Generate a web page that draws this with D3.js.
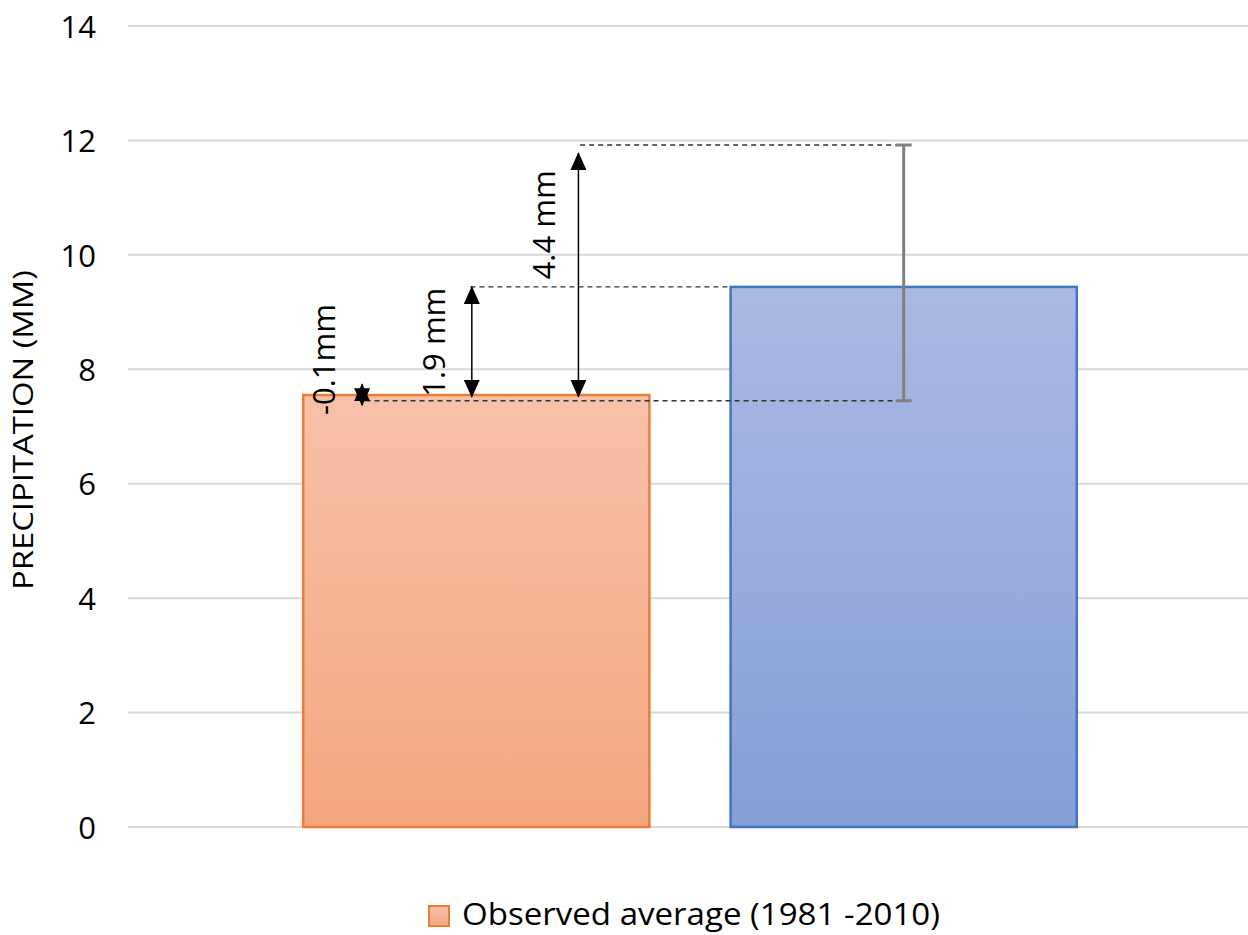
<!DOCTYPE html>
<html>
<head>
<meta charset="utf-8">
<script src="https://cdn.jsdelivr.net/npm/d3@7"></script>
<style>
  body { margin: 0; background: #fff; }
  svg { display: block; font-family: "Open Sans", sans-serif; }
</style>
</head>
<body>
<div id="chart"></div>
<script>
// Series (one cluster, two bars)
const seriesNames = ["Observed average (1981 -2010)", "Model ensemble"];
const seriesValues = [7.55, 9.44];
const legendNames = ["Observed average (1981 -2010)"];

// Model spread shown as an error bar on the second bar
const rangeLow = [7.45];
const rangeHigh = [11.92];

const yTicks = [0, 2, 4, 6, 8, 10, 12, 14];

// Difference arrows drawn over the observed bar
const arrowLabels = ["-0.1mm", "1.9 mm", "4.4 mm"];
const arrowFrom = [7.74, 7.52, 7.52];
const arrowTo = [7.37, 9.44, 11.78];
const arrowPos = [0.17, 0.487, 0.795];      // fraction across the observed bar
const labelPos = [0.06, 0.378, 0.694];
const labelStart = [7.2, 7.52, 9.57];

// Dashed reference lines
const refValues = [7.45, 9.44, 11.92];
const refStart = [0.18, 0.483, 0.8];

const W = 1248, H = 935;
const margin = {top: 26, right: 0, bottom: 108, left: 128};

const svg = d3.select("#chart").append("svg")
    .attr("width", W)
    .attr("height", H);

const defs = svg.append("defs");

function gradient(id, top, bottom) {
    const g = defs.append("linearGradient")
        .attr("id", id)
        .attr("x1", 0).attr("y1", 0).attr("x2", 0).attr("y2", 1);
    g.append("stop").attr("offset", "0%").attr("stop-color", top);
    g.append("stop").attr("offset", "100%").attr("stop-color", bottom);
}
gradient("gOrange", "#F7C1A9", "#F5A681");
gradient("gBlue", "#AAB9E1", "#869ED7");

// arrowhead, tip at the end of the line
defs.append("marker")
    .attr("id", "head")
    .attr("viewBox", "0 0 18 16")
    .attr("refX", 17).attr("refY", 8)
    .attr("markerWidth", 18).attr("markerHeight", 16)
    .attr("markerUnits", "userSpaceOnUse")
    .attr("orient", "auto-start-reverse")
    .append("path")
    .attr("d", "M0,0 L18,8 L0,16 Z")
    .attr("fill", "#000");

const x = d3.scaleBand()
    .domain(seriesNames)
    .range([margin.left, 1252])
    .paddingInner(0.19)
    .paddingOuter(0.41);

const y = d3.scaleLinear()
    .domain([0, 14])
    .range([H - margin.bottom, margin.top]);

// Gridlines
svg.append("g")
    .selectAll("line")
    .data(yTicks)
    .join("line")
    .attr("x1", margin.left)
    .attr("x2", W)
    .attr("y1", d => y(d))
    .attr("y2", d => y(d))
    .attr("stroke", "#D9D9D9")
    .attr("stroke-width", 2);

// Y axis labels
svg.append("g")
    .call(d3.axisLeft(y).tickValues(yTicks).tickSize(0).tickPadding(0))
    .attr("transform", `translate(96,0)`)
    .call(g => g.select(".domain").remove())
    .selectAll("text")
    .attr("font-family", "Open Sans, sans-serif")
    .attr("font-size", 31)
    .attr("fill", "#000")
    .attr("dy", "0.36em");

// Y axis title
svg.append("text")
    .attr("transform", `translate(33,${430}) rotate(-90)`)
    .attr("text-anchor", "middle")
    .attr("font-size", 27)
    .attr("textLength", 320)
    .attr("lengthAdjust", "spacingAndGlyphs")
    .text("PRECIPITATION (MM)");

// Bars
const fills = ["url(#gOrange)", "url(#gBlue)"];
const strokes = ["#ED7D31", "#4472C4"];
svg.append("g")
    .selectAll("rect")
    .data(seriesNames)
    .join("rect")
    .attr("x", d => x(d))
    .attr("width", x.bandwidth())
    .attr("y", (d, i) => y(seriesValues[i]))
    .attr("height", (d, i) => y(0) - y(seriesValues[i]))
    .attr("fill", (d, i) => fills[i])
    .attr("stroke", (d, i) => strokes[i])
    .attr("stroke-width", 2.5);

const obsX = f => x(seriesNames[0]) + f * x.bandwidth();
const cx2 = x(seriesNames[1]) + x.bandwidth() / 2;

// Dashed reference lines (end at the blue bar edge for the mean, else at the error bar)
const refEnd = [cx2, x(seriesNames[1]), cx2];
svg.append("g")
    .selectAll("line")
    .data(refValues)
    .join("line")
    .attr("x1", (d, i) => obsX(refStart[i]))
    .attr("x2", (d, i) => refEnd[i])
    .attr("y1", d => y(d))
    .attr("y2", d => y(d))
    .attr("stroke", "#333")
    .attr("stroke-width", 1.3)
    .attr("stroke-dasharray", "5,4");

// Error bar
const eb = svg.append("g").attr("stroke", "#808080").attr("stroke-width", 3);
eb.append("line")
    .attr("x1", cx2).attr("x2", cx2)
    .attr("y1", y(rangeLow[0])).attr("y2", y(rangeHigh[0]));
[rangeLow[0], rangeHigh[0]].forEach(v => {
    eb.append("line")
        .attr("x1", cx2 - 8).attr("x2", cx2 + 8)
        .attr("y1", y(v)).attr("y2", y(v));
});

// Arrows
svg.append("g")
    .selectAll("line")
    .data(arrowLabels)
    .join("line")
    .attr("x1", (d, i) => obsX(arrowPos[i]))
    .attr("x2", (d, i) => obsX(arrowPos[i]))
    .attr("y1", (d, i) => y(arrowFrom[i]))
    .attr("y2", (d, i) => y(arrowTo[i]))
    .attr("stroke", "#000")
    .attr("stroke-width", 1.5)
    .attr("marker-start", "url(#head)")
    .attr("marker-end", "url(#head)");

// Arrow labels
svg.append("g")
    .selectAll("text")
    .data(arrowLabels)
    .join("text")
    .attr("transform", (d, i) => `translate(${obsX(labelPos[i])},${y(labelStart[i])}) rotate(-90)`)
    .attr("dy", "0.36em")
    .attr("font-size", 31)
    .text(d => d);

// Legend
const legend = svg.append("g").attr("transform", `translate(428,905)`);
legendNames.forEach((name, i) => {
    legend.append("rect")
        .attr("x", 1).attr("y", 1)
        .attr("width", 20).attr("height", 20)
        .attr("fill", "url(#gOrange)")
        .attr("stroke", strokes[i])
        .attr("stroke-width", 2);
    legend.append("text")
        .attr("x", 34)
        .attr("y", 9)
        .attr("dy", "0.36em")
        .attr("font-size", 31)
        .attr("textLength", 478)
        .attr("lengthAdjust", "spacingAndGlyphs")
        .text(name);
});
</script>
</body>
</html>
